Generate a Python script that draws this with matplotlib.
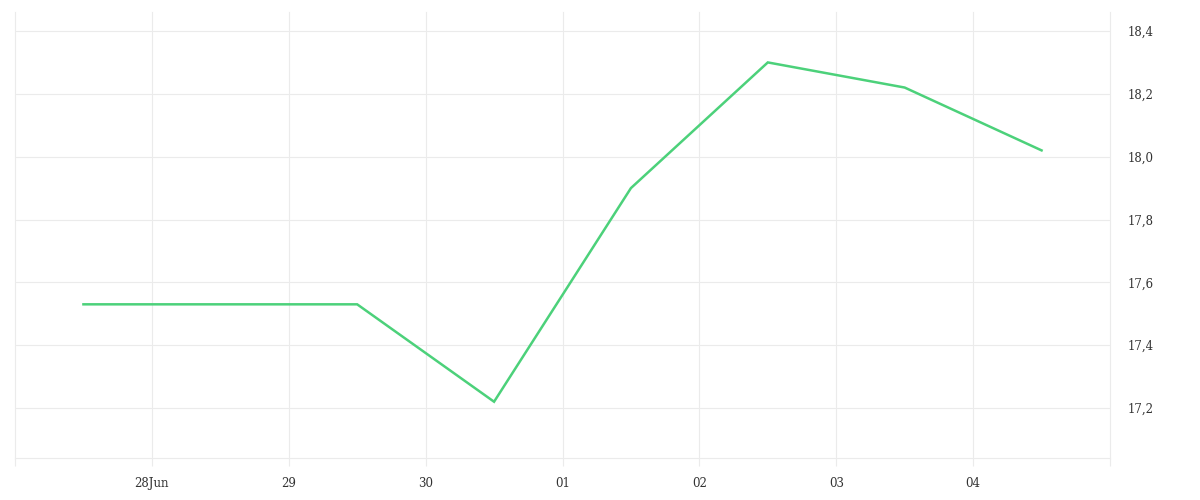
import matplotlib
matplotlib.use("Agg")
import matplotlib.pyplot as plt
import matplotlib.dates as mdates
import numpy as np
import datetime as dt

# Data
dates = ["2023-06-27 12:00", "2023-06-28 12:00", "2023-06-29 12:00", "2023-06-30 12:00",
         "2023-07-01 12:00", "2023-07-02 12:00", "2023-07-03 12:00", "2023-07-04 12:00"]
values = [17.53, 17.53, 17.53, 17.22, 17.90, 18.30, 18.22, 18.02]
tick_days = ["2023-06-27", "2023-06-28", "2023-06-29", "2023-06-30", "2023-07-01",
             "2023-07-02", "2023-07-03", "2023-07-04", "2023-07-05"]
tick_labels = ["", "28Jun", "29", "30", "01", "02", "03", "04", ""]
y_ticks = [17.2, 17.4, 17.6, 17.8, 18.0, 18.2, 18.4]
y_labels = ["17,2", "17,4", "17,6", "17,8", "18,0", "18,2", "18,4"]

x = [dt.datetime.strptime(d, "%Y-%m-%d %H:%M") for d in dates]
xt = [dt.datetime.strptime(d, "%Y-%m-%d") for d in tick_days]

grid_c = "#ebebeb"
text_c = "#333333"
plt.rcParams['font.family'] = ['DejaVu Serif']

fig = plt.figure(figsize=(12, 5), dpi=100)
ax = fig.add_axes([15/1200, 1 - 458/500, (1110-15)/1200, (458-12)/500])

ax.plot(x, values, color="#4cd17a", lw=1.8, solid_joinstyle="miter", zorder=3)

ax.set_xlim(xt[0], xt[-1])
ax.set_ylim(17.2 - 50/314.2, 18.4 + 19/314.2)

ax.set_xticks(xt)
ax.set_xticklabels(tick_labels)
ax.set_yticks(y_ticks)
ax.set_yticklabels(y_labels)

ax.yaxis.tick_right()
ax.tick_params(axis='y', length=0, pad=13, labelsize=8.5, labelcolor=text_c)
ax.tick_params(axis='x', length=5.8, width=0.8, color=grid_c, pad=8, labelsize=8.5, labelcolor=text_c)

ax.grid(True, color=grid_c, lw=0.8)
ax.set_axisbelow(True)
for gl in ax.get_xgridlines():
    gl.set_clip_on(False)
for s in ["top", "left", "right"]:
    ax.spines[s].set_visible(False)
ax.spines["bottom"].set_color(grid_c)
ax.spines["bottom"].set_linewidth(0.8)

fig.savefig("out.png", dpi=100, facecolor="white")
